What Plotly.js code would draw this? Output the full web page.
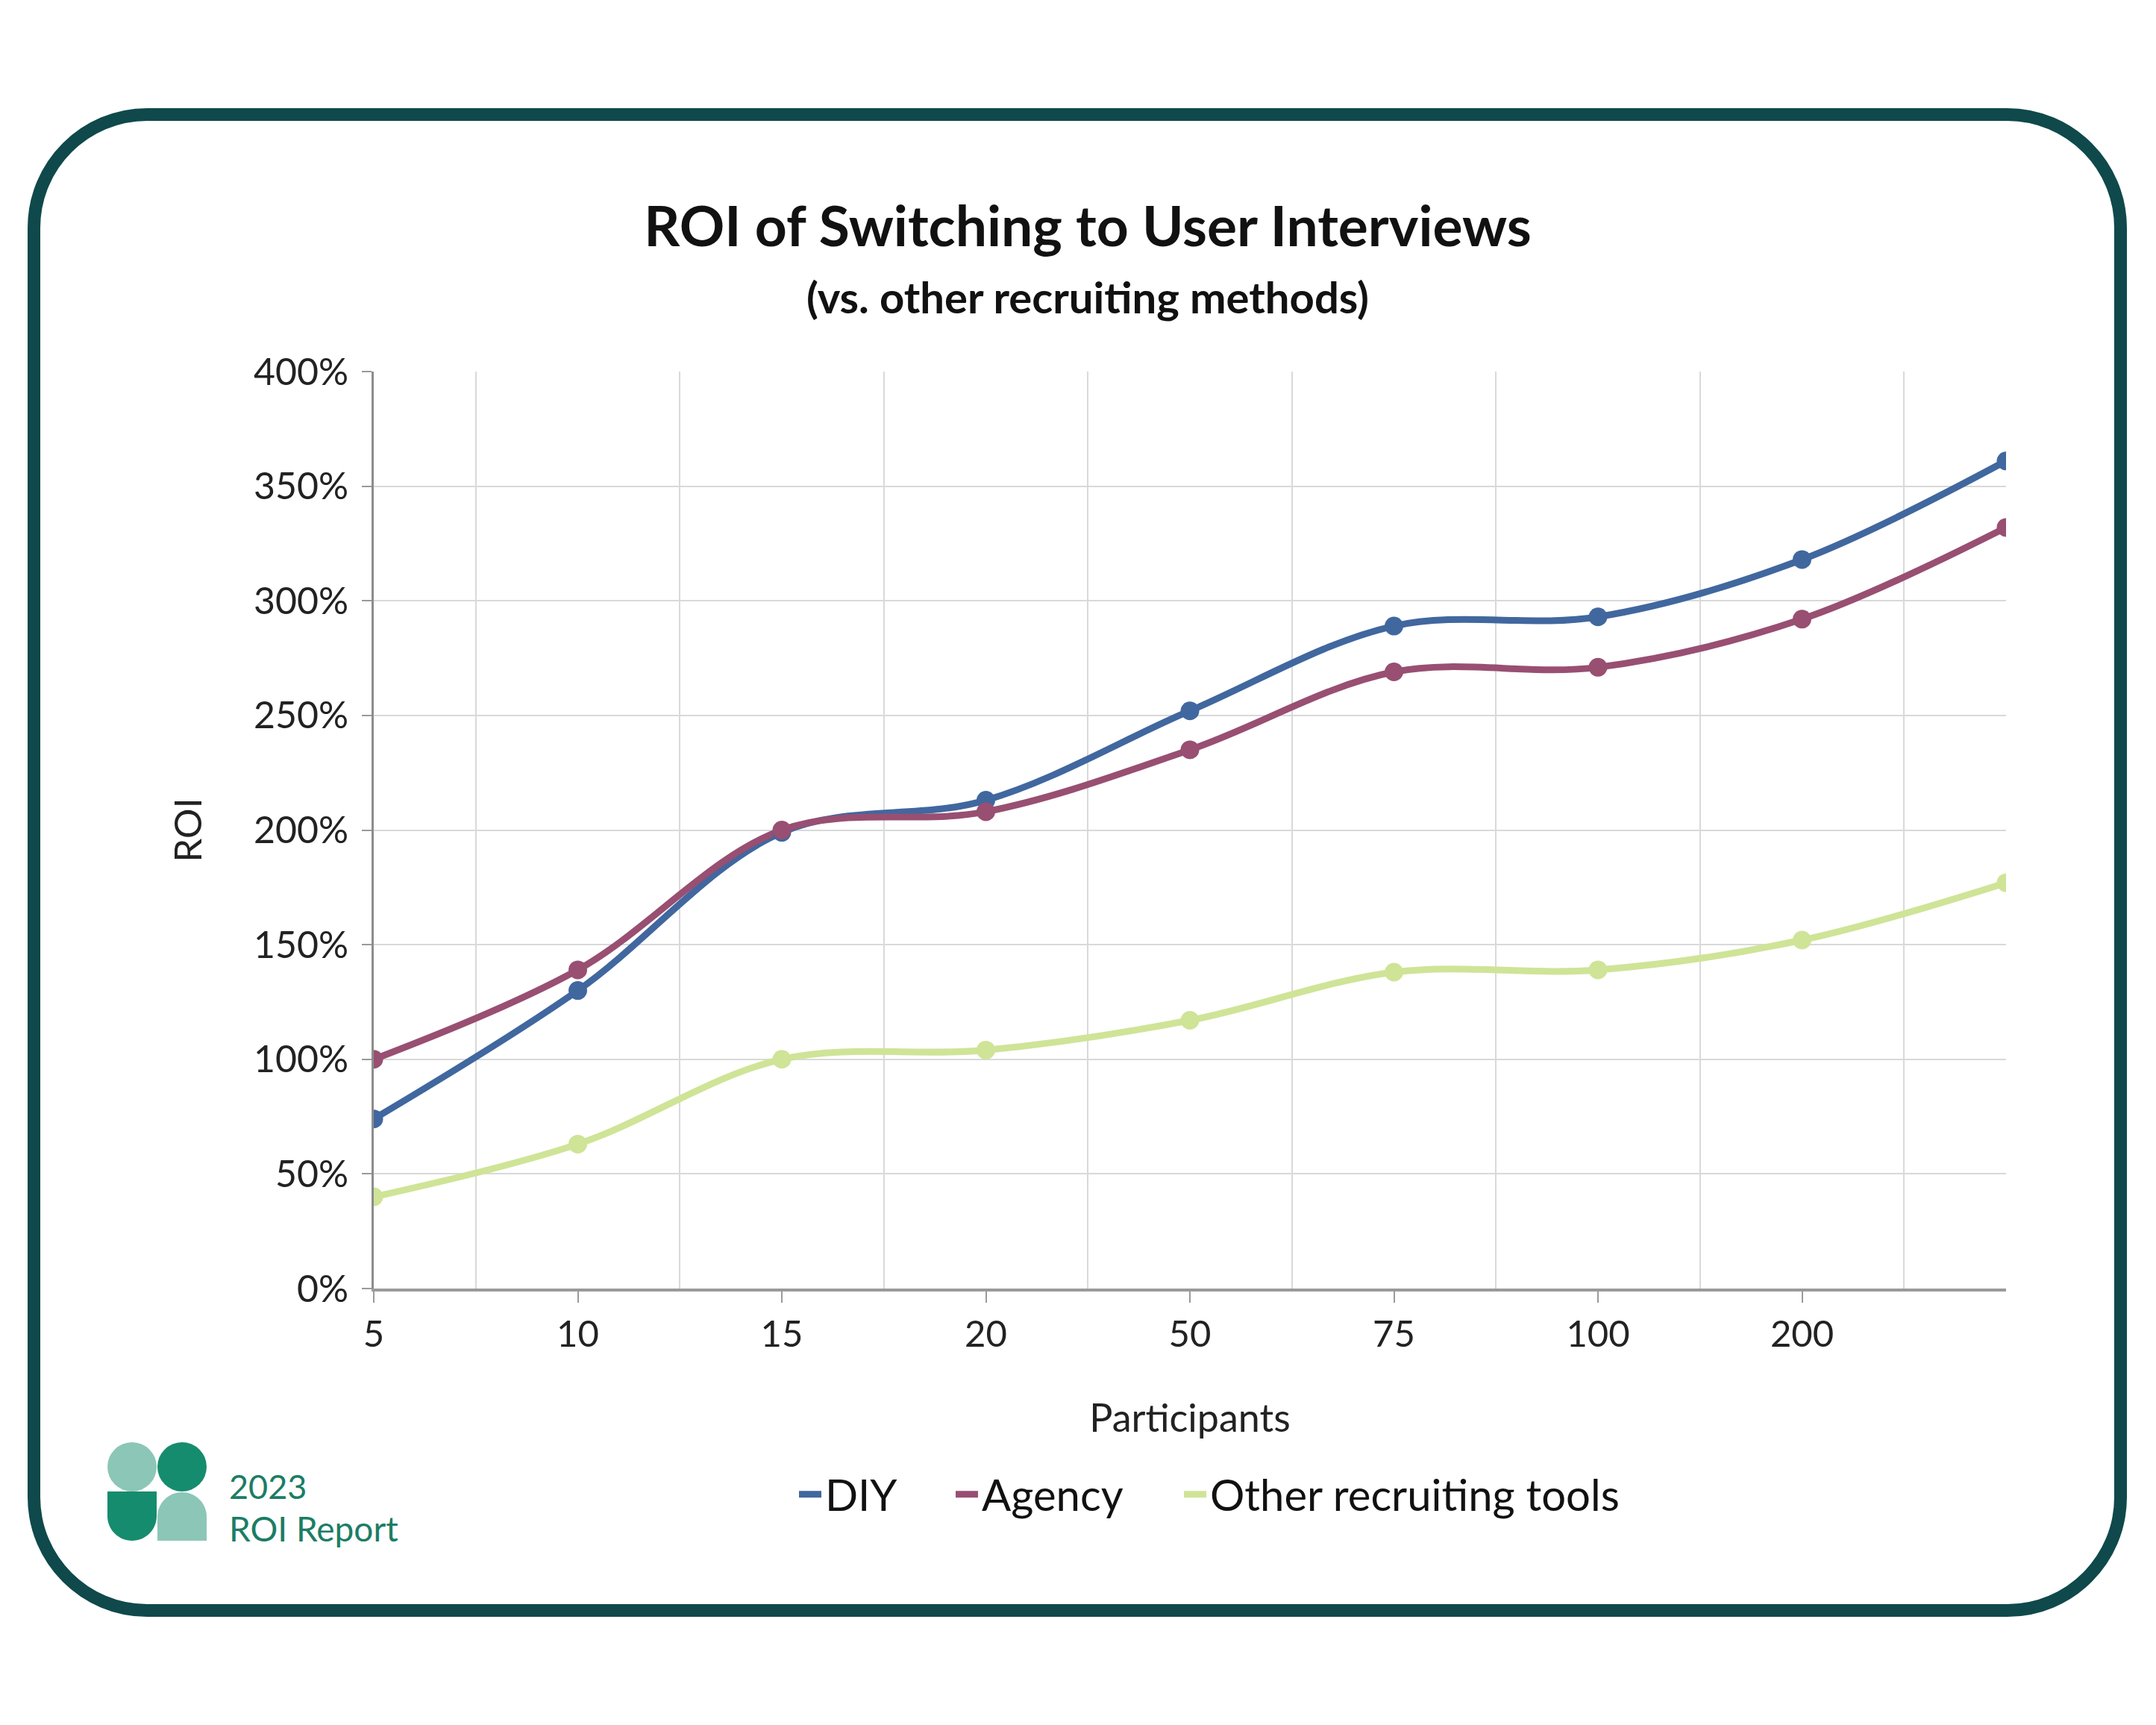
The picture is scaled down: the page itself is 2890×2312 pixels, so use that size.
<!DOCTYPE html>
<html>
<head>
<meta charset="utf-8">
<script src="https://cdn.plot.ly/plotly-3.0.1.min.js"></script>
<style>
  html, body { margin: 0; padding: 0; background: #ffffff; }
  #chart { width: 2890px; height: 2312px; }
</style>
</head>
<body>
<div id="chart"></div>
<script>
// ---- Data ----
const participants = ['5', '10', '15', '20', '50', '75', '100', '200', ''];
const diyROI    = [74, 130, 199, 213, 252, 289, 293, 318, 361];
const agencyROI = [100, 139, 200, 208, 235, 269, 271, 292, 332];
const otherROI  = [40, 63, 100, 104, 117, 138, 139, 152, 177];
const seriesNames = ['DIY', 'Agency', 'Other recruiting tools'];
const yTickValues = [0, 50, 100, 150, 200, 250, 300, 350, 400];
const yTickLabels = yTickValues.map(v => v + '%');

// ---- Layout helpers (pixel -> paper coordinates) ----
const W = 2890, H = 2312;
const L = 501, R = 2689, T = 498, B = 1727;
function X(x) { return (x - L) / (R - L); }
function Y(y) { return (B - y) / (B - T); }
function pt(x, y) { return X(x).toFixed(5) + ',' + Y(y).toFixed(5); }
const K = 0.5523;

const FONT = 'Lato, "Open Sans", "Noto Sans", sans-serif';
const colors = ['#41679f', '#984f72', '#cfe497'];
const legendIds = ['legend', 'legend2', 'legend3'];
const legendLeft = [1066, 1276, 1582];

const xIdx = participants.map((_, i) => i);
const seriesData = [diyROI, agencyROI, otherROI];

const traces = [];
seriesData.forEach((vals, s) => {
  traces.push({
    type: 'scatter', mode: 'lines', name: seriesNames[s],
    x: xIdx, y: vals,
    line: { color: colors[s], width: 9, shape: 'spline', smoothing: 1 },
    cliponaxis: true, hoverinfo: 'skip', showlegend: true,
    legend: legendIds[s]
  });
});
seriesData.forEach((vals, s) => {
  traces.push({
    type: 'scatter', mode: 'markers', name: seriesNames[s],
    x: xIdx, y: vals,
    marker: { color: colors[s], size: 25 },
    cliponaxis: true, hoverinfo: 'skip', showlegend: false
  });
});

// Frame (rounded rectangle)
const fx0 = 45.5, fx1 = 2842.5, fy0 = 153.5, fy1 = 2158.5, fr = 152;
const framePath =
  `M${pt(fx0 + fr, fy0)} L${pt(fx1 - fr, fy0)} ` +
  `C${pt(fx1 - fr + K * fr, fy0)} ${pt(fx1, fy0 + fr - K * fr)} ${pt(fx1, fy0 + fr)} ` +
  `L${pt(fx1, fy1 - fr)} ` +
  `C${pt(fx1, fy1 - fr + K * fr)} ${pt(fx1 - fr + K * fr, fy1)} ${pt(fx1 - fr, fy1)} ` +
  `L${pt(fx0 + fr, fy1)} ` +
  `C${pt(fx0 + fr - K * fr, fy1)} ${pt(fx0, fy1 - fr + K * fr)} ${pt(fx0, fy1 - fr)} ` +
  `L${pt(fx0, fy0 + fr)} ` +
  `C${pt(fx0, fy0 + fr - K * fr)} ${pt(fx0 + fr - K * fr, fy0)} ${pt(fx0 + fr, fy0)} Z`;

// Logo shapes
const lightG = '#8cc6b6', darkG = '#168c6e';
const lr = 33;
const uPath =
  `M${pt(144, 1999)} L${pt(210, 1999)} L${pt(210, 2032)} ` +
  `C${pt(210, 2032 + K * lr)} ${pt(177 + K * lr, 2065)} ${pt(177, 2065)} ` +
  `C${pt(177 - K * lr, 2065)} ${pt(144, 2032 + K * lr)} ${pt(144, 2032)} Z`;
const archPath =
  `M${pt(211, 2065)} L${pt(211, 2033)} ` +
  `C${pt(211, 2033 - K * lr)} ${pt(244 - K * lr, 2000)} ${pt(244, 2000)} ` +
  `C${pt(244 + K * lr, 2000)} ${pt(277, 2033 - K * lr)} ${pt(277, 2033)} ` +
  `L${pt(277, 2065)} Z`;

const shapes = [
  { type: 'path', xref: 'paper', yref: 'paper', path: framePath,
    line: { color: '#0f494b', width: 17 }, fillcolor: 'rgba(0,0,0,0)' },
  { type: 'circle', xref: 'paper', yref: 'paper',
    x0: X(144), x1: X(210), y0: Y(1999), y1: Y(1933),
    fillcolor: lightG, line: { width: 0 } },
  { type: 'circle', xref: 'paper', yref: 'paper',
    x0: X(211), x1: X(277), y0: Y(1999), y1: Y(1933),
    fillcolor: darkG, line: { width: 0 } },
  { type: 'path', xref: 'paper', yref: 'paper', path: uPath,
    fillcolor: darkG, line: { width: 0 } },
  { type: 'path', xref: 'paper', yref: 'paper', path: archPath,
    fillcolor: lightG, line: { width: 0 } }
];

const annotations = [
  { text: '(vs. other recruiting methods)', xref: 'paper', yref: 'paper',
    x: X(1458), y: Y(397), xanchor: 'center', yanchor: 'middle', showarrow: false,
    font: { family: FONT, size: 58, color: '#111111', weight: 700 } },
  { text: '2023', xref: 'paper', yref: 'paper',
    x: X(305), y: Y(1992), xanchor: 'left', yanchor: 'middle', showarrow: false,
    font: { family: FONT, size: 45, color: '#1b7d65' } },
  { text: 'ROI Report', xref: 'paper', yref: 'paper',
    x: X(305), y: Y(2048), xanchor: 'left', yanchor: 'middle', showarrow: false,
    font: { family: FONT, size: 46, color: '#1b7d65' } }
];

function legendCfg(i) {
  return {
    orientation: 'h',
    x: X(legendLeft[i]), xanchor: 'left',
    y: Y(2003), yanchor: 'middle',
    font: { family: FONT, size: 58, color: '#111111' },
    bgcolor: 'rgba(0,0,0,0)',
    borderwidth: 0
  };
}

const layout = {
  width: W,
  height: H,
  margin: { l: L, r: W - R, t: T, b: H - B, pad: 0 },
  paper_bgcolor: '#ffffff',
  plot_bgcolor: '#ffffff',
  font: { family: FONT, color: '#222222' },
  showlegend: true,
  title: {
    text: 'ROI of Switching to User Interviews',
    xref: 'container', yref: 'container',
    x: 1458 / W, xanchor: 'center',
    y: 1 - 304 / H, yanchor: 'middle',
    font: { family: FONT, size: 75, color: '#111111', weight: 700 }
  },
  xaxis: {
    range: [0, participants.length - 1],
    tickmode: 'array',
    tickvals: xIdx.slice(0, participants.length - 1),
    ticktext: participants.slice(0, participants.length - 1),
    ticks: 'outside', ticklen: 15, tickwidth: 2, tickcolor: '#9a9a9a',
    ticklabelstandoff: 0,
    showgrid: false,
    minor: { tick0: 0.5, dtick: 1, showgrid: true, gridcolor: '#d9d9d9', gridwidth: 2, ticks: '' },
    showline: true, linecolor: '#9a9a9a', linewidth: 4,
    zeroline: false,
    automargin: false,
    tickfont: { family: FONT, size: 49, color: '#222222' },
    title: { text: 'Participants', standoff: 70,
             font: { family: FONT, size: 52, color: '#222222' } }
  },
  yaxis: {
    range: [0, 400],
    tickmode: 'array',
    tickvals: yTickValues,
    ticktext: yTickLabels,
    ticks: 'outside', ticklen: 13, tickwidth: 2, tickcolor: '#9a9a9a',
    ticklabelstandoff: 8,
    showgrid: true, gridcolor: '#d9d9d9', gridwidth: 2,
    showline: true, linecolor: '#8c8c8c', linewidth: 3,
    zeroline: false,
    automargin: false,
    tickfont: { family: FONT, size: 50, color: '#222222' },
    title: { text: 'ROI', standoff: 54,
             font: { family: FONT, size: 51, color: '#222222' } }
  },
  legend: legendCfg(0),
  legend2: legendCfg(1),
  legend3: legendCfg(2),
  shapes: shapes,
  annotations: annotations
};

Plotly.newPlot('chart', traces, layout, { displayModeBar: false, staticPlot: true });
</script>
</body>
</html>
